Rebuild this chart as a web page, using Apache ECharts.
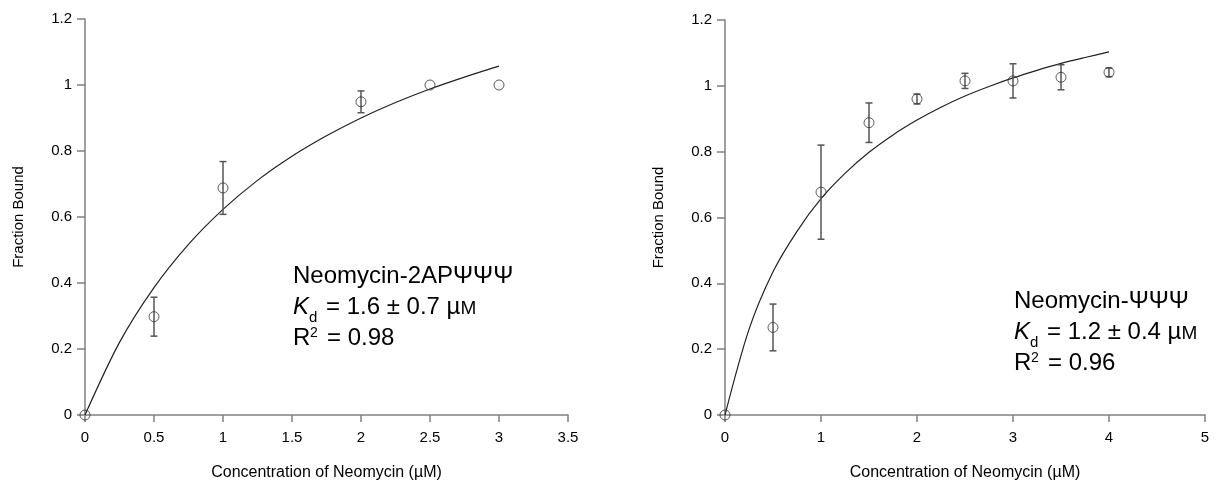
<!DOCTYPE html>
<html>
<head>
<meta charset="utf-8">
<script src="https://cdn.jsdelivr.net/npm/echarts@6/dist/echarts.min.js"></script>
<style>
  html, body { margin: 0; padding: 0; background: #fff; }
  #main { width: 1219px; height: 486px; }
</style>
</head>
<body>
<div id="main"></div>
<script>
// left panel: Neomycin-2APΨΨΨ
var leftConc = [0, 0.5, 1, 2, 2.5, 3];
var leftBound = [0, 0.298, 0.688, 0.949, 1.0, 1.0];
var leftErr = [0, 0.059, 0.08, 0.033, 0, 0];
var leftFitX = [0, 0.25, 0.5, 0.75, 1, 1.25, 1.5, 1.75, 2, 2.25, 2.5, 2.75, 3];
var leftFitY = [0, 0.22, 0.386, 0.517, 0.623, 0.711, 0.784, 0.846, 0.9, 0.947, 0.988, 1.024, 1.057];

// right panel: Neomycin-ΨΨΨ
var rightConc = [0, 0.5, 1, 1.5, 2, 2.5, 3, 3.5, 4];
var rightBound = [0, 0.266, 0.677, 0.888, 0.96, 1.015, 1.015, 1.026, 1.041];
var rightErr = [0, 0.071, 0.143, 0.06, 0.015, 0.023, 0.052, 0.038, 0.013];
var rightFitX = [0, 0.25, 0.5, 0.75, 1, 1.25, 1.5, 1.75, 2, 2.25, 2.5, 2.75, 3, 3.25, 3.5, 3.75, 4];
var rightFitY = [0, 0.26, 0.435, 0.558, 0.657, 0.734, 0.798, 0.851, 0.896, 0.935, 0.969, 0.998, 1.024, 1.047, 1.068, 1.086, 1.103];

var yTicks = ['0', '0.2', '0.4', '0.6', '0.8', '1', '1.2'];
var leftXTicks = ['0', '0.5', '1', '1.5', '2', '2.5', '3', '3.5'];
var rightXTicks = ['0', '1', '2', '3', '4', '5'];

var FONT = '"Liberation Sans", Arial, sans-serif';
var AXIS_GRAY = '#808080';

function zip(a, b, c) {
  return a.map(function (v, i) { return c ? [v, b[i], c[i]] : [v, b[i]]; });
}

function xAxis(idx, max, step, ticks) {
  return {
    type: 'value',
    gridIndex: idx,
    min: 0,
    max: max,
    interval: step,
    axisLine: { show: true, onZero: false, lineStyle: { color: AXIS_GRAY, width: 1.5 } },
    axisTick: { show: true, length: 7, lineStyle: { color: AXIS_GRAY, width: 1.5 } },
    axisLabel: {
      color: '#000', fontSize: 15, fontFamily: FONT, margin: 15,
      formatter: function (v) { return ticks[Math.round(v / step)]; }
    },
    splitLine: { show: false },
    name: 'Concentration of Neomycin (µM)',
    nameLocation: 'middle',
    nameGap: 50,
    nameTextStyle: { color: '#000', fontSize: 16, fontFamily: FONT }
  };
}

function yAxis(idx) {
  return {
    type: 'value',
    gridIndex: idx,
    min: 0,
    max: 1.2,
    interval: 0.2,
    axisLine: { show: true, onZero: false, lineStyle: { color: AXIS_GRAY, width: 1.5 } },
    axisTick: { show: true, length: 8, lineStyle: { color: AXIS_GRAY, width: 1.5 } },
    axisLabel: {
      color: '#000', fontSize: 15, fontFamily: FONT, margin: 13,
      formatter: function (v) { return yTicks[Math.round(v / 0.2)]; }
    },
    splitLine: { show: false },
    name: 'Fraction Bound',
    nameLocation: 'middle',
    nameGap: 59,
    nameTextStyle: { color: '#000', fontSize: 15, fontFamily: FONT }
  };
}

function renderErr(params, api) {
  var x = api.value(0), y = api.value(1), e = api.value(2);
  if (!e) return;
  var top = api.coord([x, y + e]);
  var bot = api.coord([x, y - e]);
  var w = 3.5;
  var st = { stroke: '#555', lineWidth: 1.5 };
  return {
    type: 'group',
    children: [
      { type: 'line', shape: { x1: top[0], y1: top[1], x2: bot[0], y2: bot[1] }, style: st },
      { type: 'line', shape: { x1: top[0] - w, y1: top[1], x2: top[0] + w, y2: top[1] }, style: st },
      { type: 'line', shape: { x1: bot[0] - w, y1: bot[1], x2: bot[0] + w, y2: bot[1] }, style: st }
    ]
  };
}

function panelSeries(idx, conc, bound, err, fitX, fitY) {
  return [
    {
      type: 'line',
      xAxisIndex: idx, yAxisIndex: idx,
      data: zip(fitX, fitY),
      smooth: 0.3,
      showSymbol: false,
      lineStyle: { color: '#222', width: 1.2 },
      z: 2
    },
    {
      type: 'custom',
      xAxisIndex: idx, yAxisIndex: idx,
      data: zip(conc, bound, err),
      encode: { x: 0, y: 1 },
      renderItem: renderErr,
      z: 3
    },
    {
      type: 'scatter',
      xAxisIndex: idx, yAxisIndex: idx,
      data: zip(conc, bound),
      symbol: 'circle',
      symbolSize: 10,
      itemStyle: { color: 'rgba(0,0,0,0)', borderColor: '#333', borderWidth: 1 },
      z: 4
    }
  ];
}

// fit annotation, x0 = left edge, b = baseline of the first line
function annot(x0, b, name, kd, r2) {
  function t(x, base, text, size, italic) {
    return {
      type: 'text',
      x: x,
      y: base - 0.35 * size,
      style: {
        text: text, fill: '#000', fontSize: size, fontFamily: FONT,
        fontStyle: italic ? 'italic' : 'normal',
        textAlign: 'left', textVerticalAlign: 'middle', verticalAlign: 'middle'
      }
    };
  }
  var b2 = b + 31, b3 = b + 62;
  var kdLine = t(x0 + 33, b2, '', 24);
  kdLine.style.text = '{a|= ' + kd + ' µ}{m|M}';
  kdLine.style.rich = {
    a: { fontSize: 24, fontFamily: FONT, fill: '#000' },
    m: { fontSize: 19, fontFamily: FONT, fill: '#000', padding: [3, 0, 0, 0] }
  };
  return [
    t(x0, b, name, 24),
    t(x0, b2, 'K', 24, true),
    t(x0 + 16, b2 + 7, 'd', 15),
    kdLine,
    t(x0, b3, 'R', 24),
    t(x0 + 17, b3 - 9, '2', 14),
    t(x0 + 34, b3, '= ' + r2, 24)
  ];
}

var chart = echarts.init(document.getElementById('main'));
chart.setOption({
  animation: false,
  backgroundColor: '#fff',
  grid: [
    { left: 85, top: 19, width: 483, height: 400 },
    { left: 725, top: 20, width: 480, height: 399 }
  ],
  xAxis: [xAxis(0, 3.5, 0.5, leftXTicks), xAxis(1, 5, 1, rightXTicks)],
  yAxis: [yAxis(0), yAxis(1)],
  series: panelSeries(0, leftConc, leftBound, leftErr, leftFitX, leftFitY)
    .concat(panelSeries(1, rightConc, rightBound, rightErr, rightFitX, rightFitY)),
  graphic: annot(293, 285, 'Neomycin-2APΨΨΨ', '1.6 ± 0.7', '0.98')
    .concat(annot(1014, 310, 'Neomycin-ΨΨΨ', '1.2 ± 0.4', '0.96'))
});
</script>
</body>
</html>
